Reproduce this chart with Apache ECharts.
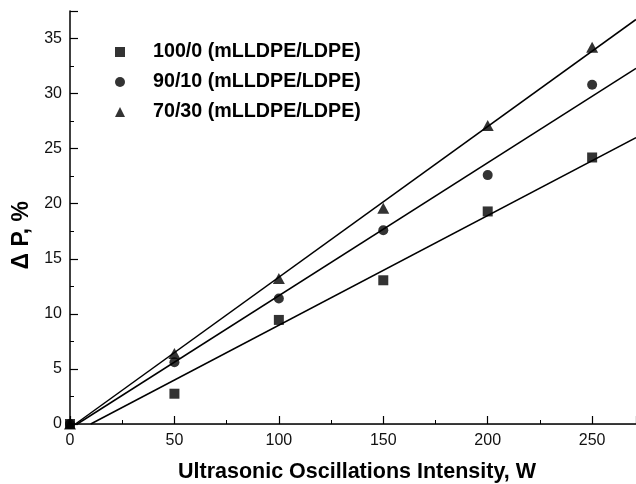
<!DOCTYPE html>
<html><head><meta charset="utf-8">
<script src="https://cdn.jsdelivr.net/npm/echarts@6/dist/echarts.min.js"></script>
<style>html,body{margin:0;padding:0;background:#fff}#c{width:636px;height:484px}</style>
</head><body><div id="c"></div>
<script>
const intensity = [0, 50, 100, 150, 200, 250];
const seriesNames = ['100/0 (mLLDPE/LDPE)', '90/10 (mLLDPE/LDPE)', '70/30 (mLLDPE/LDPE)'];
const dp100_0 = [0, 2.75, 9.45, 13.05, 19.3, 24.2];
const dp90_10 = [0, 5.6, 11.4, 17.6, 22.6, 30.8];
const dp70_30 = [0, 6.4, 13.2, 19.6, 27.1, 34.2];
const xMax = 271, yMax = 37.5;

function fit(xs, ys) {
  const n = xs.length;
  const mx = xs.reduce((a,b)=>a+b,0)/n, my = ys.reduce((a,b)=>a+b,0)/n;
  let sxy=0, sxx=0;
  for (let i=0;i<n;i++){ sxy+=(xs[i]-mx)*(ys[i]-my); sxx+=(xs[i]-mx)**2; }
  const m = sxy/sxx, b = my - m*mx;
  const x0 = Math.max(0, -b/m);
  return [[x0, m*x0+b], [xMax, m*xMax+b]];
}
const pts = ys => intensity.map((x,i)=>[x, ys[i]]);
const FONT = '"Liberation Sans", Arial, sans-serif';
const lineStyle = {color:'#000', width:1.5};
const chart = echarts.init(document.getElementById('c'));
chart.setOption({
  animation:false,
  backgroundColor:'#fff',
  grid:{left:70, top:11, right:0, bottom:60, outerBoundsMode:'none', containLabel:false},
  legend:{
    data:[
      {name:seriesNames[0], icon:'rect'},
      {name:seriesNames[1], icon:'circle'},
      {name:seriesNames[2], icon:'triangle'}
    ],
    orient:'vertical', left:110, top:37,
    itemWidth:10, itemHeight:10, itemGap:10,
    textStyle:{fontFamily:FONT, fontWeight:'bold', fontSize:19.7, color:'#000', lineHeight:19, padding:[0,0,0,23]},
    selectedMode:false
  },
  xAxis:[{
    type:'value', min:0, max:xMax, interval:50,
    name:'Ultrasonic Oscillations Intensity, W', nameLocation:'middle', nameGap:37,
    nameTextStyle:{fontFamily:FONT, fontWeight:'bold', fontSize:21.5, color:'#000', padding:[0,0,0,8]},
    axisLine:{show:true, onZero:false, lineStyle:{color:'#000', width:1.5}},
    axisTick:{show:true, inside:true, length:8, lineStyle:{color:'#000', width:1.2}},
    minorTick:{show:true, splitNumber:2, length:4, lineStyle:{color:'#000', width:1}},
    axisLabel:{margin:9, fontFamily:FONT, fontSize:16, color:'#111', showMaxLabel:false},
    splitLine:{show:false}
  },{
    type:'value', position:'top', min:0, max:xMax,
    axisLine:{show:true, lineStyle:{color:'#333', width:1.2}},
    axisTick:{show:false}, axisLabel:{show:false}, splitLine:{show:false}
  }],
  yAxis:{
    type:'value', min:0, max:yMax, interval:5,
    axisLine:{show:true, onZero:false, lineStyle:{color:'#000', width:1.5}},
    axisTick:{show:true, inside:true, length:8, lineStyle:{color:'#000', width:1.2}},
    minorTick:{show:true, splitNumber:2, length:4, lineStyle:{color:'#000', width:1}},
    axisLabel:{margin:8, fontFamily:FONT, fontSize:16, color:'#111', showMaxLabel:false},
    splitLine:{show:false}
  },
  graphic:[{
    type:'text', left:10, top:201, rotation:Math.PI/2,
    style:{text:'Δ P, %', font:'bold 23px "Liberation Sans", Arial, sans-serif', fill:'#000'}
  }],
  series:[
    {type:'line', data:fit(intensity, dp70_30), symbol:'none', lineStyle, silent:true, z:1},
    {type:'line', data:fit(intensity, dp90_10), symbol:'none', lineStyle, silent:true, z:1},
    {type:'line', data:fit(intensity, dp100_0), symbol:'none', lineStyle, silent:true, z:1},
    {name:seriesNames[2], type:'scatter', data:pts(dp70_30), symbol:'triangle', symbolSize:[12,11], itemStyle:{color:'#000'}, clip:false, z:3},
    {name:seriesNames[1], type:'scatter', data:pts(dp90_10), symbol:'circle', symbolSize:10, itemStyle:{color:'#000'}, clip:false, z:3},
    {name:seriesNames[0], type:'scatter', data:pts(dp100_0), symbol:'rect', symbolSize:10, itemStyle:{color:'#000'}, clip:false, z:4}
  ]
});
</script></body></html>
